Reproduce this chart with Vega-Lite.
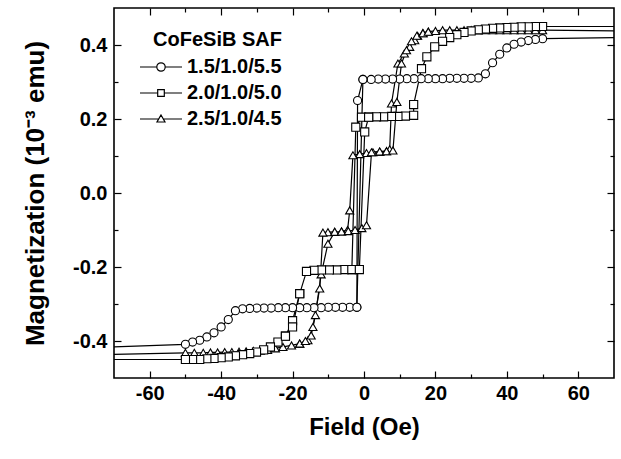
{
  "$schema": "https://vega.github.io/schema/vega-lite/v6.json",
  "autosize": {"type": "none"},
  "padding": {"left": 114, "top": 8, "right": 7, "bottom": 81},
  "width": 500,
  "height": 370,
  "config": {
    "font": "Liberation Sans",
    "view": {"stroke": "black", "strokeWidth": 1.6},
    "axis": {
      "domain": false, "grid": false, "ticks": true,
      "tickColor": "black", "tickWidth": 1.2,
      "labelFont": "Liberation Sans", "labelFontSize": 20, "labelFontWeight": "bold", "labelColor": "black",
      "titleFont": "Liberation Sans", "titleFontSize": 24, "titleFontWeight": "bold", "titleColor": "black",
      "labelFlush": false, "labelOverlap": false
    }
  },
  "data": {
    "values": [
      {"s": "1.5/1.0/5.5", "g": "C1", "x": 70, "y": 0.42},
      {"s": "1.5/1.0/5.5", "g": "C1", "x": 50, "y": 0.417},
      {"s": "1.5/1.0/5.5", "g": "C1", "x": 48, "y": 0.415},
      {"s": "1.5/1.0/5.5", "g": "C1", "x": 46, "y": 0.412},
      {"s": "1.5/1.0/5.5", "g": "C1", "x": 44, "y": 0.408},
      {"s": "1.5/1.0/5.5", "g": "C1", "x": 42, "y": 0.402},
      {"s": "1.5/1.0/5.5", "g": "C1", "x": 40, "y": 0.392},
      {"s": "1.5/1.0/5.5", "g": "C1", "x": 38, "y": 0.375},
      {"s": "1.5/1.0/5.5", "g": "C1", "x": 36, "y": 0.352},
      {"s": "1.5/1.0/5.5", "g": "C1", "x": 34, "y": 0.322},
      {"s": "1.5/1.0/5.5", "g": "C1", "x": 32, "y": 0.311},
      {"s": "1.5/1.0/5.5", "g": "C1", "x": 30, "y": 0.31},
      {"s": "1.5/1.0/5.5", "g": "C1", "x": 28, "y": 0.31},
      {"s": "1.5/1.0/5.5", "g": "C1", "x": 26, "y": 0.31},
      {"s": "1.5/1.0/5.5", "g": "C1", "x": 24, "y": 0.31},
      {"s": "1.5/1.0/5.5", "g": "C1", "x": 22, "y": 0.309},
      {"s": "1.5/1.0/5.5", "g": "C1", "x": 20, "y": 0.309},
      {"s": "1.5/1.0/5.5", "g": "C1", "x": 18, "y": 0.309},
      {"s": "1.5/1.0/5.5", "g": "C1", "x": 16, "y": 0.309},
      {"s": "1.5/1.0/5.5", "g": "C1", "x": 14, "y": 0.309},
      {"s": "1.5/1.0/5.5", "g": "C1", "x": 12, "y": 0.309},
      {"s": "1.5/1.0/5.5", "g": "C1", "x": 10, "y": 0.308},
      {"s": "1.5/1.0/5.5", "g": "C1", "x": 8, "y": 0.308},
      {"s": "1.5/1.0/5.5", "g": "C1", "x": 6, "y": 0.308},
      {"s": "1.5/1.0/5.5", "g": "C1", "x": 4, "y": 0.308},
      {"s": "1.5/1.0/5.5", "g": "C1", "x": 2, "y": 0.307},
      {"s": "1.5/1.0/5.5", "g": "C1", "x": -0.3, "y": 0.307},
      {"s": "1.5/1.0/5.5", "g": "C1", "x": -2, "y": -0.309},
      {"s": "1.5/1.0/5.5", "g": "C1", "x": -4, "y": -0.309},
      {"s": "1.5/1.0/5.5", "g": "C1", "x": -6, "y": -0.309},
      {"s": "1.5/1.0/5.5", "g": "C1", "x": -8, "y": -0.309},
      {"s": "1.5/1.0/5.5", "g": "C1", "x": -10, "y": -0.309},
      {"s": "1.5/1.0/5.5", "g": "C1", "x": -12, "y": -0.31},
      {"s": "1.5/1.0/5.5", "g": "C1", "x": -14, "y": -0.31},
      {"s": "1.5/1.0/5.5", "g": "C1", "x": -16, "y": -0.31},
      {"s": "1.5/1.0/5.5", "g": "C1", "x": -18, "y": -0.31},
      {"s": "1.5/1.0/5.5", "g": "C1", "x": -20, "y": -0.31},
      {"s": "1.5/1.0/5.5", "g": "C1", "x": -22, "y": -0.31},
      {"s": "1.5/1.0/5.5", "g": "C1", "x": -24, "y": -0.31},
      {"s": "1.5/1.0/5.5", "g": "C1", "x": -26, "y": -0.311},
      {"s": "1.5/1.0/5.5", "g": "C1", "x": -28, "y": -0.311},
      {"s": "1.5/1.0/5.5", "g": "C1", "x": -30, "y": -0.311},
      {"s": "1.5/1.0/5.5", "g": "C1", "x": -32, "y": -0.312},
      {"s": "1.5/1.0/5.5", "g": "C1", "x": -34, "y": -0.313},
      {"s": "1.5/1.0/5.5", "g": "C1", "x": -36, "y": -0.318},
      {"s": "1.5/1.0/5.5", "g": "C1", "x": -38, "y": -0.342},
      {"s": "1.5/1.0/5.5", "g": "C1", "x": -40, "y": -0.362},
      {"s": "1.5/1.0/5.5", "g": "C1", "x": -42, "y": -0.378},
      {"s": "1.5/1.0/5.5", "g": "C1", "x": -44, "y": -0.389},
      {"s": "1.5/1.0/5.5", "g": "C1", "x": -46, "y": -0.398},
      {"s": "1.5/1.0/5.5", "g": "C1", "x": -48, "y": -0.403},
      {"s": "1.5/1.0/5.5", "g": "C1", "x": -50, "y": -0.409},
      {"s": "1.5/1.0/5.5", "g": "C1", "x": -70, "y": -0.416},
      {"s": "1.5/1.0/5.5", "g": "C2", "x": -2, "y": -0.309},
      {"s": "1.5/1.0/5.5", "g": "C2", "x": -1.8, "y": 0.25},
      {"s": "1.5/1.0/5.5", "g": "C2", "x": -0.3, "y": 0.307},

      {"s": "2.5/1.0/4.5", "g": "T1", "x": 70, "y": 0.438},
      {"s": "2.5/1.0/4.5", "g": "T1", "x": 50, "y": 0.44},
      {"s": "2.5/1.0/4.5", "g": "T1", "x": 48, "y": 0.44},
      {"s": "2.5/1.0/4.5", "g": "T1", "x": 46, "y": 0.44},
      {"s": "2.5/1.0/4.5", "g": "T1", "x": 44, "y": 0.44},
      {"s": "2.5/1.0/4.5", "g": "T1", "x": 42, "y": 0.44},
      {"s": "2.5/1.0/4.5", "g": "T1", "x": 40, "y": 0.44},
      {"s": "2.5/1.0/4.5", "g": "T1", "x": 38, "y": 0.44},
      {"s": "2.5/1.0/4.5", "g": "T1", "x": 36, "y": 0.44},
      {"s": "2.5/1.0/4.5", "g": "T1", "x": 34, "y": 0.44},
      {"s": "2.5/1.0/4.5", "g": "T1", "x": 32, "y": 0.44},
      {"s": "2.5/1.0/4.5", "g": "T1", "x": 30, "y": 0.44},
      {"s": "2.5/1.0/4.5", "g": "T1", "x": 28, "y": 0.44},
      {"s": "2.5/1.0/4.5", "g": "T1", "x": 26, "y": 0.44},
      {"s": "2.5/1.0/4.5", "g": "T1", "x": 24, "y": 0.44},
      {"s": "2.5/1.0/4.5", "g": "T1", "x": 22, "y": 0.44},
      {"s": "2.5/1.0/4.5", "g": "T1", "x": 20, "y": 0.438},
      {"s": "2.5/1.0/4.5", "g": "T1", "x": 18, "y": 0.436},
      {"s": "2.5/1.0/4.5", "g": "T1", "x": 16.5, "y": 0.432},
      {"s": "2.5/1.0/4.5", "g": "T1", "x": 15, "y": 0.425},
      {"s": "2.5/1.0/4.5", "g": "T1", "x": 14.2, "y": 0.413},
      {"s": "2.5/1.0/4.5", "g": "T1", "x": 12.8, "y": 0.395},
      {"s": "2.5/1.0/4.5", "g": "T1", "x": 11.3, "y": 0.377},
      {"s": "2.5/1.0/4.5", "g": "T1", "x": 9.5, "y": 0.35},
      {"s": "2.5/1.0/4.5", "g": "T1", "x": 7.7, "y": 0.242},
      {"s": "2.5/1.0/4.5", "g": "T1", "x": 7.2, "y": 0.118},
      {"s": "2.5/1.0/4.5", "g": "T1", "x": 6.3, "y": 0.113},
      {"s": "2.5/1.0/4.5", "g": "T1", "x": 4.4, "y": 0.112},
      {"s": "2.5/1.0/4.5", "g": "T1", "x": 2.5, "y": 0.11},
      {"s": "2.5/1.0/4.5", "g": "T1", "x": 0.7, "y": 0.108},
      {"s": "2.5/1.0/4.5", "g": "T1", "x": -1.2, "y": 0.105},
      {"s": "2.5/1.0/4.5", "g": "T1", "x": -3.1, "y": 0.102},
      {"s": "2.5/1.0/4.5", "g": "T1", "x": -4, "y": -0.047},
      {"s": "2.5/1.0/4.5", "g": "T1", "x": -4.6, "y": -0.1},
      {"s": "2.5/1.0/4.5", "g": "T1", "x": -6.3, "y": -0.104},
      {"s": "2.5/1.0/4.5", "g": "T1", "x": -8.2, "y": -0.105},
      {"s": "2.5/1.0/4.5", "g": "T1", "x": -10.1, "y": -0.106},
      {"s": "2.5/1.0/4.5", "g": "T1", "x": -11.5, "y": -0.107},
      {"s": "2.5/1.0/4.5", "g": "T1", "x": -12.4, "y": -0.258},
      {"s": "2.5/1.0/4.5", "g": "T1", "x": -14.3, "y": -0.362},
      {"s": "2.5/1.0/4.5", "g": "T1", "x": -15.7, "y": -0.398},
      {"s": "2.5/1.0/4.5", "g": "T1", "x": -18, "y": -0.407},
      {"s": "2.5/1.0/4.5", "g": "T1", "x": -20.3, "y": -0.412},
      {"s": "2.5/1.0/4.5", "g": "T1", "x": -22.7, "y": -0.416},
      {"s": "2.5/1.0/4.5", "g": "T1", "x": -24.8, "y": -0.42},
      {"s": "2.5/1.0/4.5", "g": "T1", "x": -27, "y": -0.424},
      {"s": "2.5/1.0/4.5", "g": "T1", "x": -29, "y": -0.426},
      {"s": "2.5/1.0/4.5", "g": "T1", "x": -31, "y": -0.427},
      {"s": "2.5/1.0/4.5", "g": "T1", "x": -33, "y": -0.428},
      {"s": "2.5/1.0/4.5", "g": "T1", "x": -35, "y": -0.429},
      {"s": "2.5/1.0/4.5", "g": "T1", "x": -37, "y": -0.43},
      {"s": "2.5/1.0/4.5", "g": "T1", "x": -39, "y": -0.43},
      {"s": "2.5/1.0/4.5", "g": "T1", "x": -41, "y": -0.431},
      {"s": "2.5/1.0/4.5", "g": "T1", "x": -43, "y": -0.431},
      {"s": "2.5/1.0/4.5", "g": "T1", "x": -45, "y": -0.432},
      {"s": "2.5/1.0/4.5", "g": "T1", "x": -47.5, "y": -0.432},
      {"s": "2.5/1.0/4.5", "g": "T1", "x": -50, "y": -0.432},
      {"s": "2.5/1.0/4.5", "g": "T1", "x": -70, "y": -0.436},
      {"s": "2.5/1.0/4.5", "g": "T2", "x": -18, "y": -0.407},
      {"s": "2.5/1.0/4.5", "g": "T2", "x": -16.4, "y": -0.4},
      {"s": "2.5/1.0/4.5", "g": "T2", "x": -14.8, "y": -0.385},
      {"s": "2.5/1.0/4.5", "g": "T2", "x": -13.6, "y": -0.33},
      {"s": "2.5/1.0/4.5", "g": "T2", "x": -12, "y": -0.22},
      {"s": "2.5/1.0/4.5", "g": "T2", "x": -10.1, "y": -0.137},
      {"s": "2.5/1.0/4.5", "g": "T2", "x": -8.2, "y": -0.105},
      {"s": "2.5/1.0/4.5", "g": "T3", "x": -6.3, "y": -0.104},
      {"s": "2.5/1.0/4.5", "g": "T3", "x": -4.4, "y": -0.103},
      {"s": "2.5/1.0/4.5", "g": "T3", "x": -2.5, "y": -0.1},
      {"s": "2.5/1.0/4.5", "g": "T3", "x": -0.6, "y": -0.095},
      {"s": "2.5/1.0/4.5", "g": "T3", "x": 0.7, "y": -0.087},
      {"s": "2.5/1.0/4.5", "g": "T3", "x": 2.1, "y": 0.11},
      {"s": "2.5/1.0/4.5", "g": "T3", "x": 4.4, "y": 0.112},
      {"s": "2.5/1.0/4.5", "g": "T3", "x": 6.3, "y": 0.113},
      {"s": "2.5/1.0/4.5", "g": "T3", "x": 8.1, "y": 0.115},
      {"s": "2.5/1.0/4.5", "g": "T3", "x": 9.2, "y": 0.246},
      {"s": "2.5/1.0/4.5", "g": "T3", "x": 10.5, "y": 0.35},
      {"s": "2.5/1.0/4.5", "g": "T3", "x": 11.9, "y": 0.386},
      {"s": "2.5/1.0/4.5", "g": "T3", "x": 13.3, "y": 0.41},
      {"s": "2.5/1.0/4.5", "g": "T3", "x": 14.8, "y": 0.425},
      {"s": "2.5/1.0/4.5", "g": "T3", "x": 16.5, "y": 0.432},
      {"s": "2.5/1.0/4.5", "g": "T3", "x": 18, "y": 0.436},

      {"s": "2.0/1.0/5.0", "g": "S1", "x": 70, "y": 0.45},
      {"s": "2.0/1.0/5.0", "g": "S1", "x": 50, "y": 0.45},
      {"s": "2.0/1.0/5.0", "g": "S1", "x": 48, "y": 0.45},
      {"s": "2.0/1.0/5.0", "g": "S1", "x": 46, "y": 0.449},
      {"s": "2.0/1.0/5.0", "g": "S1", "x": 44, "y": 0.449},
      {"s": "2.0/1.0/5.0", "g": "S1", "x": 42, "y": 0.448},
      {"s": "2.0/1.0/5.0", "g": "S1", "x": 40, "y": 0.447},
      {"s": "2.0/1.0/5.0", "g": "S1", "x": 38, "y": 0.446},
      {"s": "2.0/1.0/5.0", "g": "S1", "x": 36, "y": 0.445},
      {"s": "2.0/1.0/5.0", "g": "S1", "x": 34, "y": 0.443},
      {"s": "2.0/1.0/5.0", "g": "S1", "x": 32, "y": 0.441},
      {"s": "2.0/1.0/5.0", "g": "S1", "x": 30, "y": 0.438},
      {"s": "2.0/1.0/5.0", "g": "S1", "x": 28, "y": 0.434},
      {"s": "2.0/1.0/5.0", "g": "S1", "x": 26, "y": 0.428},
      {"s": "2.0/1.0/5.0", "g": "S1", "x": 24, "y": 0.42},
      {"s": "2.0/1.0/5.0", "g": "S1", "x": 22, "y": 0.41},
      {"s": "2.0/1.0/5.0", "g": "S1", "x": 19.8, "y": 0.395},
      {"s": "2.0/1.0/5.0", "g": "S1", "x": 17.6, "y": 0.368},
      {"s": "2.0/1.0/5.0", "g": "S1", "x": 16.1, "y": 0.336},
      {"s": "2.0/1.0/5.0", "g": "S1", "x": 13.9, "y": 0.239},
      {"s": "2.0/1.0/5.0", "g": "S1", "x": 13.9, "y": 0.21},
      {"s": "2.0/1.0/5.0", "g": "S1", "x": 11.6, "y": 0.208},
      {"s": "2.0/1.0/5.0", "g": "S1", "x": 9.5, "y": 0.207},
      {"s": "2.0/1.0/5.0", "g": "S1", "x": 7.7, "y": 0.207},
      {"s": "2.0/1.0/5.0", "g": "S1", "x": 5.5, "y": 0.206},
      {"s": "2.0/1.0/5.0", "g": "S1", "x": 3.5, "y": 0.206},
      {"s": "2.0/1.0/5.0", "g": "S1", "x": 1.3, "y": 0.205},
      {"s": "2.0/1.0/5.0", "g": "S1", "x": -0.7, "y": 0.205},
      {"s": "2.0/1.0/5.0", "g": "S1", "x": -2.3, "y": 0.178},
      {"s": "2.0/1.0/5.0", "g": "S1", "x": -3.4, "y": -0.207},
      {"s": "2.0/1.0/5.0", "g": "S1", "x": -5.5, "y": -0.207},
      {"s": "2.0/1.0/5.0", "g": "S1", "x": -7.6, "y": -0.208},
      {"s": "2.0/1.0/5.0", "g": "S1", "x": -9.7, "y": -0.208},
      {"s": "2.0/1.0/5.0", "g": "S1", "x": -11.9, "y": -0.208},
      {"s": "2.0/1.0/5.0", "g": "S1", "x": -14, "y": -0.209},
      {"s": "2.0/1.0/5.0", "g": "S1", "x": -16.1, "y": -0.212},
      {"s": "2.0/1.0/5.0", "g": "S1", "x": -18, "y": -0.272},
      {"s": "2.0/1.0/5.0", "g": "S1", "x": -20, "y": -0.345},
      {"s": "2.0/1.0/5.0", "g": "S1", "x": -22, "y": -0.387},
      {"s": "2.0/1.0/5.0", "g": "S1", "x": -24.1, "y": -0.403},
      {"s": "2.0/1.0/5.0", "g": "S1", "x": -26.2, "y": -0.416},
      {"s": "2.0/1.0/5.0", "g": "S1", "x": -28.1, "y": -0.424},
      {"s": "2.0/1.0/5.0", "g": "S1", "x": -30.1, "y": -0.43},
      {"s": "2.0/1.0/5.0", "g": "S1", "x": -32, "y": -0.434},
      {"s": "2.0/1.0/5.0", "g": "S1", "x": -34, "y": -0.437},
      {"s": "2.0/1.0/5.0", "g": "S1", "x": -36, "y": -0.44},
      {"s": "2.0/1.0/5.0", "g": "S1", "x": -38, "y": -0.443},
      {"s": "2.0/1.0/5.0", "g": "S1", "x": -40, "y": -0.445},
      {"s": "2.0/1.0/5.0", "g": "S1", "x": -42, "y": -0.447},
      {"s": "2.0/1.0/5.0", "g": "S1", "x": -44, "y": -0.448},
      {"s": "2.0/1.0/5.0", "g": "S1", "x": -46, "y": -0.45},
      {"s": "2.0/1.0/5.0", "g": "S1", "x": -48, "y": -0.45},
      {"s": "2.0/1.0/5.0", "g": "S1", "x": -50, "y": -0.45},
      {"s": "2.0/1.0/5.0", "g": "S1", "x": -70, "y": -0.45},
      {"s": "2.0/1.0/5.0", "g": "S2", "x": -22, "y": -0.387},
      {"s": "2.0/1.0/5.0", "g": "S2", "x": -20, "y": -0.362},
      {"s": "2.0/1.0/5.0", "g": "S2", "x": -18, "y": -0.272},
      {"s": "2.0/1.0/5.0", "g": "S3", "x": -3.4, "y": -0.207},
      {"s": "2.0/1.0/5.0", "g": "S3", "x": -1.3, "y": -0.207},
      {"s": "2.0/1.0/5.0", "g": "S3", "x": 0.2, "y": 0.165},
      {"s": "2.0/1.0/5.0", "g": "S3", "x": 1.3, "y": 0.205}
    ]
  },
  "resolve": {"axis": {"x": "independent", "y": "independent"}, "scale": {"shape": "independent"}},
  "layer": [
    {
      "mark": {"type": "line", "color": "black", "strokeWidth": 1.2},
      "encoding": {
        "x": {"field": "x", "type": "quantitative", "scale": {"domain": [-70, 70], "nice": false, "zero": false},
          "axis": {"orient": "bottom", "values": [-60, -40, -20, 0, 20, 40, 60], "tickSize": -7, "labelPadding": 12,
            "title": "Field (Oe)", "titlePadding": 12,
            "labelExpr": "datum.value < 0 ? '-' + format(-datum.value, 'd') : format(datum.value, 'd')"}},
        "y": {"field": "y", "type": "quantitative", "scale": {"domain": [-0.5, 0.5], "nice": false, "zero": false},
          "axis": {"orient": "left", "values": [-0.4, -0.2, 0, 0.2, 0.4], "tickSize": -7, "labelPadding": 14,
            "title": "Magnetization (10⁻³ emu)", "titlePadding": 24, "titleFontSize": 26,
            "labelExpr": "datum.value < 0 ? '-' + format(-datum.value, '.1f') : format(datum.value, '.1f')"}},
        "detail": {"field": "g", "type": "nominal"},
        "order": {"value": null}
      }
    },
    {
      "transform": [{"filter": "abs(datum.x) < 60"}],
      "mark": {"type": "point", "filled": false, "fill": "white", "stroke": "black", "strokeWidth": 1.1, "size": 66, "opacity": 1},
      "encoding": {
        "x": {"field": "x", "type": "quantitative",
          "axis": {"orient": "top", "values": [-60, -40, -20, 0, 20, 40, 60], "tickSize": -7, "labels": false, "title": null}},
        "y": {"field": "y", "type": "quantitative",
          "axis": {"orient": "right", "values": [-0.4, -0.2, 0, 0.2, 0.4], "tickSize": -7, "labels": false, "title": null}},
        "shape": {"field": "s", "type": "nominal",
          "scale": {"domain": ["1.5/1.0/5.5", "2.0/1.0/5.0", "2.5/1.0/4.5"], "range": ["circle", "square", "triangle-up"]},
          "legend": null}
      }
    },
    {
      "mark": {"type": "point", "filled": false, "fill": "white", "stroke": "black", "strokeWidth": 1.2, "size": 100, "opacity": 0},
      "encoding": {
        "x": {"field": "x", "type": "quantitative", "axis": null},
        "y": {"field": "y", "type": "quantitative", "axis": null},
        "shape": {"field": "s", "type": "nominal",
          "scale": {"domain": ["1.5/1.0/5.5", "2.0/1.0/5.0", "2.5/1.0/4.5"],
            "range": [
              "M-1.6,0H1.76M3.44,0H6.8M3.44,0A0.84,0.84,0,1,1,1.76,0A0.84,0.84,0,1,1,3.44,0Z",
              "M-1.6,0H1.94M3.26,0H6.8M1.94,-0.66H3.26V0.66H1.94Z",
              "M-1.6,0H2.14M3.06,0H6.8M2.6,-0.8L3.4,0.6H1.8Z"
            ]},
          "legend": {
            "title": "CoFeSiB SAF", "orient": "none", "legendX": 24, "legendY": 22,
            "titleFont": "Liberation Sans", "titleFontSize": 20, "titleFontWeight": "bold", "titleColor": "black",
            "titleAnchor": "end", "titlePadding": 7,
            "labelFont": "Liberation Sans", "labelFontSize": 20, "labelFontWeight": "bold", "labelColor": "black",
            "labelOffset": 29, "symbolSize": 100, "rowPadding": 6, "padding": 0,
            "symbolFillColor": "white", "symbolStrokeColor": "black", "symbolStrokeWidth": 1.2,
            "encoding": {"symbols": {
              "fill": {"value": "white"}, "stroke": {"value": "black"}, "strokeWidth": {"value": 1.2}, "opacity": {"value": 1}
            }}
          }}
      }
    },
    {
      "mark": {"type": "point", "opacity": 0},
      "encoding": {
        "x": {"field": "x", "type": "quantitative",
          "axis": {"orient": "bottom", "values": [-50, -30, -10, 10, 30, 50], "tickSize": -4, "labels": false, "title": null}},
        "y": {"field": "y", "type": "quantitative",
          "axis": {"orient": "left", "values": [-0.3, -0.1, 0.1, 0.3], "tickSize": -4, "labels": false, "title": null}}
      }
    },
    {
      "mark": {"type": "point", "opacity": 0},
      "encoding": {
        "x": {"field": "x", "type": "quantitative",
          "axis": {"orient": "top", "values": [-50, -30, -10, 10, 30, 50], "tickSize": -4, "labels": false, "title": null}},
        "y": {"field": "y", "type": "quantitative",
          "axis": {"orient": "right", "values": [-0.3, -0.1, 0.1, 0.3], "tickSize": -4, "labels": false, "title": null}}
      }
    }
  ]
}
